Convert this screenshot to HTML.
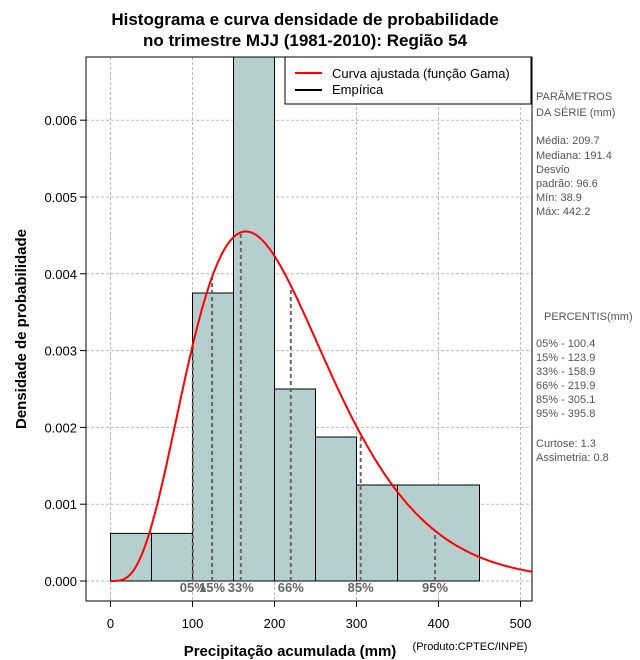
<!DOCTYPE html>
<html><head><meta charset="utf-8"><style>
body{margin:0;background:#fff;}
svg{display:block;font-family:"Liberation Sans",sans-serif;}
</style></head><body>
<svg id="c" width="640" height="660" viewBox="0 0 640 660"></svg>
<script>
const binStarts=[0,50,100,150,200,250,300,350];
const binEnds=[50,100,150,200,250,300,350,450];
const densities=[0.00062,0.00062,0.00375,0.0075,0.0025,0.001875,0.00125,0.00125];
const xTicks=[0,100,200,300,400,500];
const yTicks=[0,0.001,0.002,0.003,0.004,0.005,0.006];
const yTickLabels=["0.000","0.001","0.002","0.003","0.004","0.005","0.006"];
const gammaShape=[4.71];
const gammaScale=[44.5];
const pctValues=[100.4,123.9,158.9,219.9,305.1,395.8];
const pctLabels=["05%","15%","33%","66%","85%","95%"];
const NS="http://www.w3.org/2000/svg";
const svg=document.getElementById('c');
const L=86,R=532,T=57,B=601;
const X=v=>110.5+v*0.82;
const Y=v=>581-v*76800;
function mk(tag,at,parent){const e=document.createElementNS(NS,tag);for(const k in at)e.setAttribute(k,at[k]);(parent||svg).appendChild(e);return e;}
function lgamma(z){const g=7,c=[0.99999999999980993,676.5203681218851,-1259.1392167224028,771.32342877765313,-176.61502916214059,12.507343278686905,-0.13857109526572012,9.9843695780195716e-6,1.5056327351493116e-7];z-=1;let x=c[0];for(let i=1;i<9;i++)x+=c[i]/(z+i);const t=z+g+0.5;return 0.5*Math.log(2*Math.PI)+(z+0.5)*Math.log(t)-t+Math.log(x);}
function pdf(x){const k=gammaShape[0],th=gammaScale[0];if(x<=0)return 0;return Math.exp((k-1)*Math.log(x)-x/th-lgamma(k)-k*Math.log(th));}
const defs=mk('defs',{});const cp=mk('clipPath',{id:'clip'},defs);mk('rect',{x:L,y:T,width:R-L,height:B-T},cp);
const plot=mk('g',{'clip-path':'url(#clip)'});
xTicks.forEach(v=>{const l=mk('line',{x1:X(v),x2:X(v),y1:T,y2:B,stroke:'#bbb','stroke-dasharray':'3,2','stroke-width':1},plot);});
yTicks.forEach(v=>{const l=mk('line',{x1:L,x2:R,y1:Y(v),y2:Y(v),stroke:'#bbb','stroke-dasharray':'3,2','stroke-width':1},plot);});
densities.forEach((d,i)=>{const r=mk('rect',{x:X(binStarts[i]),y:Y(d),width:X(binEnds[i])-X(binStarts[i]),height:Y(0)-Y(d),fill:'#b5cfcf',stroke:'#000','stroke-width':1},plot);});
const bl=mk('line',{x1:X(0),x2:X(450),y1:Y(0),y2:Y(0),stroke:'#000','stroke-dasharray':'1,2'},plot);

pctValues.forEach((p,i)=>{const l=mk('line',{x1:X(p),x2:X(p),y1:Y(0),y2:Y(pdf(p)),stroke:'#666','stroke-width':2,'stroke-dasharray':'4,3'},plot);
const t=mk('text',{x:X(p),y:592,'text-anchor':'middle','font-size':13,'font-weight':'bold',fill:'#666'},plot);t.textContent=pctLabels[i];});
let d='';for(let x=0;x<=520;x+=2){d+=(x?'L':'M')+X(x).toFixed(1)+','+Y(pdf(x)).toFixed(1);}
const cv=mk('path',{d:d,fill:'none',stroke:'#f00','stroke-width':2},plot);

const fr=mk('rect',{x:L,y:T,width:R-L,height:B-T,fill:'none',stroke:'#000'});
xTicks.forEach(v=>{mk('line',{x1:X(v),x2:X(v),y1:B,y2:B+6,stroke:'#000'});const t=mk('text',{x:X(v),y:628,'text-anchor':'middle','font-size':13});t.textContent=v;});
yTicks.forEach((v,i)=>{mk('line',{x1:L-6,x2:L,y1:Y(v),y2:Y(v),stroke:'#000'});const t=mk('text',{x:L-9,y:Y(v)+5,'text-anchor':'end','font-size':13});t.textContent=yTickLabels[i];});
</script>
<svg style="position:absolute;left:0;top:0" width="640" height="660" font-family="Liberation Sans,sans-serif">
<text x="305" y="25" text-anchor="middle" font-size="17" font-weight="bold">Histograma e curva densidade de probabilidade</text>
<text x="305" y="46" text-anchor="middle" font-size="17" font-weight="bold">no trimestre MJJ (1981-2010): Região 54</text>
<text x="290" y="656" text-anchor="middle" font-size="15" font-weight="bold">Precipitação acumulada (mm)</text>
<text x="470" y="650" text-anchor="middle" font-size="11">(Produto:CPTEC/INPE)</text>
<text transform="translate(26,329) rotate(-90)" text-anchor="middle" font-size="15" font-weight="bold">Densidade de probabilidade</text>
<g>
<rect x="285" y="57" width="246" height="47" fill="#fff" stroke="#000"/>
<line x1="295" x2="322" y1="73" y2="73" stroke="#f00" stroke-width="2"/>
<text x="332" y="78" font-size="13">Curva ajustada (função Gama)</text>
<line x1="295" x2="322" y1="90" y2="90" stroke="#000" stroke-width="2"/>
<text x="332" y="94" font-size="13">Empírica</text>
</g>
<g font-size="11" fill="#555">
<text x="536" y="100">PARÂMETROS</text>
<text x="536" y="116"> DA SÉRIE (mm)</text>
<text x="536" y="144">Média:  209.7</text>
<text x="536" y="159">Mediana:  191.4</text>
<text x="536" y="173">Desvio</text>
<text x="536" y="187">padrão:  96.6</text>
<text x="536" y="201">Mín:  38.9</text>
<text x="536" y="215">Máx:  442.2</text>
</g>
<g font-size="11" fill="#555">
<text x="544" y="320">PERCENTIS(mm)</text>
<text x="536" y="347">05% -  100.4</text>
<text x="536" y="361">15% -  123.9</text>
<text x="536" y="375">33% -  158.9</text>
<text x="536" y="389">66% -  219.9</text>
<text x="536" y="403">85% -  305.1</text>
<text x="536" y="417">95% -  395.8</text>
<text x="536" y="447">Curtose:  1.3</text>
<text x="536" y="461">Assimetria:  0.8</text>
</g>
</svg>
</body></html>
